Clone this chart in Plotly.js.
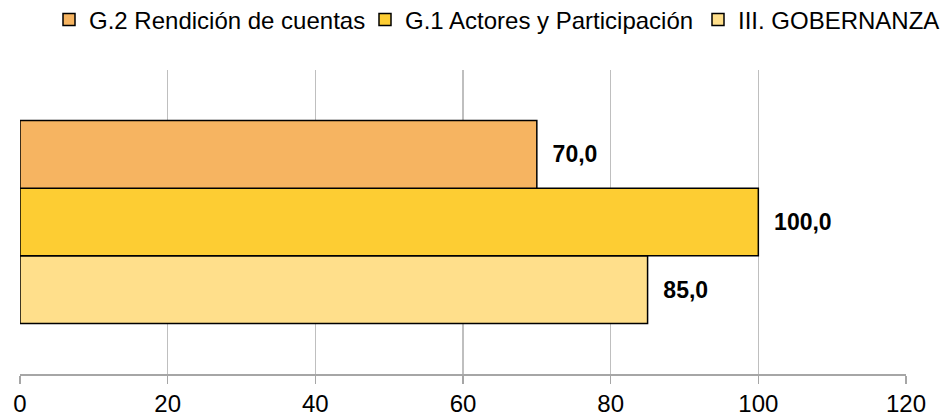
<!DOCTYPE html>
<html>
<head>
<meta charset="utf-8">
<script src="https://cdn.plot.ly/plotly-3.0.1.min.js"></script>
<style>html,body{margin:0;padding:0;background:#fff;}#chart{width:940px;height:418px;}</style>
</head>
<body>
<div id="chart"></div>
<script>
// ---- Data ----
const categories = ["Gobernanza"];
const seriesNames = ["G.2 Rendición de cuentas", "G.1 Actores y Participación", "III. GOBERNANZA"];
const seriesValues = [70, 100, 85];
const xTickValues = [0, 20, 40, 60, 80, 100, 120];
const xTickLabels = ["0", "20", "40", "60", "80", "100", "120"];

// ---- Styles ----
const seriesColors = ["#F6B461", "#FDCD33", "#FFDF8B"];
const legendX = [49, 365, 698];        // left edge of each legend entry, px
const legendFontSize = 24;
const W = 940, H = 418;
const FONT = "Liberation Sans, Arial, sans-serif";

// Plotly stacks grouped horizontal bars bottom-to-top in trace order,
// so add series in reverse to keep the first series on top.
const traces = [];
for (let i = seriesNames.length - 1; i >= 0; i--) {
  traces.push({
    type: "bar",
    orientation: "h",
    name: seriesNames[i],
    legend: i === 0 ? "legend" : "legend" + (i + 1),
    y: categories,
    x: [seriesValues[i]],
    marker: { color: seriesColors[i], line: { color: "#000", width: 1.5 } },
    text: [seriesValues[i]],
    texttemplate: "\u00a0\u00a0%{x:.1f}",
    textposition: "outside",
    cliponaxis: false,
    textfont: { family: FONT, size: 23, color: "#000", weight: "bold" },
    hoverinfo: "skip"
  });
}

const layout = {
  width: W,
  height: H,
  margin: { l: 20, r: 34, t: 70, b: 44 },
  paper_bgcolor: "#fff",
  plot_bgcolor: "#fff",
  separators: ",.",
  barmode: "group",
  bargap: 0.333,
  bargroupgap: 0,
  font: { family: FONT, color: "#000" },
  showlegend: true,
  xaxis: {
    range: [0, 120],
    tickvals: xTickValues,
    ticktext: xTickLabels,
    showgrid: true,
    gridcolor: "#BFBFBF",
    gridwidth: 1.5,
    zeroline: false,
    showline: true,
    linecolor: "#A6A6A6",
    linewidth: 2,
    ticks: "outside",
    ticklen: 8,
    tickwidth: 1.5,
    tickcolor: "#A6A6A6",
    ticklabelstandoff: -1,
    tickfont: { size: 24, color: "#000" },
    fixedrange: true
  },
  yaxis: {
    type: "category",
    showticklabels: false,
    showgrid: false,
    zeroline: false,
    showline: false,
    ticks: "",
    fixedrange: true
  }
};

seriesNames.forEach((_, i) => {
  const key = i === 0 ? "legend" : "legend" + (i + 1);
  layout[key] = {
    orientation: "h",
    xref: "container", yref: "container",
    x: legendX[i] / W, xanchor: "left",
    y: 1 - 20 / H, yanchor: "middle",
    font: { size: legendFontSize, color: "#000", family: FONT },
    bgcolor: "rgba(0,0,0,0)",
    itemwidth: 30
  };
});

Plotly.newPlot("chart", traces, layout, { displayModeBar: false, staticPlot: true });
</script>
</body>
</html>
